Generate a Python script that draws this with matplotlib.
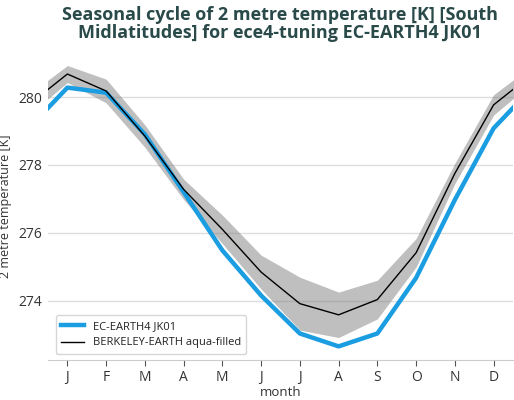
import matplotlib
matplotlib.use("Agg")
import matplotlib.pyplot as plt
import numpy as np

months = ["J", "F", "M", "A", "M", "J", "J", "A", "S", "O", "N", "D"]
model = [280.28, 280.13, 278.90, 277.20, 275.48, 274.15, 273.03, 272.65, 273.03, 274.67, 276.97, 279.08]
obs = [280.68, 280.18, 278.85, 277.28, 276.10, 274.84, 273.91, 273.58, 274.03, 275.41, 277.75, 279.77]
obs_spread = [0.25, 0.35, 0.33, 0.30, 0.42, 0.50, 0.78, 0.67, 0.57, 0.42, 0.30, 0.30]

plt.rcParams['font.family'] = ['Open Sans', 'DejaVu Sans']

x = np.arange(0, 14)
def wrap(a):
    a = list(a)
    return np.array([a[-1]] + a + [a[0]])

m = wrap(model)
o = wrap(obs)
s = wrap(obs_spread)

fig = plt.figure(figsize=(5.14, 4.0), dpi=100)
ax = fig.add_axes([0.0934, 0.101, 0.9046, 0.7665])

ax.fill_between(x, o - s, o + s, color='#808080', alpha=0.5, linewidth=0, zorder=2)
ax.plot(x, m, color='#1b9de2', linewidth=3.2, label='EC-EARTH4 JK01', zorder=3)
ax.plot(x, o, color='black', linewidth=1.0, label='BERKELEY-EARTH aqua-filled', zorder=4)

ax.set_xlim(0.5, 12.5)
ax.set_ylim(272.26, 281.3)
ax.set_xticks(range(1, 13))
ax.set_xticklabels(months)
ax.set_yticks([274, 276, 278, 280])
ax.grid(axis='y', color='#dddddd', linewidth=1.0, zorder=0)
ax.set_axisbelow(True)
for sp in ['top', 'left', 'right']:
    ax.spines[sp].set_visible(False)
ax.spines['bottom'].set_color('#cccccc')
ax.tick_params(axis='x', colors='#555555', labelcolor='#333333', length=4, labelsize=10)
ax.tick_params(axis='y', length=0, labelcolor='#333333', labelsize=10, pad=4)
ax.set_xlabel('month', fontsize=9.5, color='#333333', labelpad=1)
ax.set_ylabel('2 metre temperature [K]', fontsize=9, color='#333333')
ax.yaxis.set_label_coords(-0.077, 0.5)

leg = ax.legend(loc='lower left', fontsize=8, frameon=True, fancybox=True,
                edgecolor='#cccccc', borderpad=0.5, handlelength=2.0,
                bbox_to_anchor=(0.005, 0.0))
leg.get_frame().set_linewidth(1.0)
for t in leg.get_texts():
    t.set_color('#222222')

fig.suptitle('Seasonal cycle of 2 metre temperature [K] [South\nMidlatitudes] for ece4-tuning EC-EARTH4 JK01',
             x=0.545, y=0.985, fontsize=13, fontweight='bold', color='#2a4a4a', linespacing=1.0)

fig.savefig('out.png', dpi=100)
